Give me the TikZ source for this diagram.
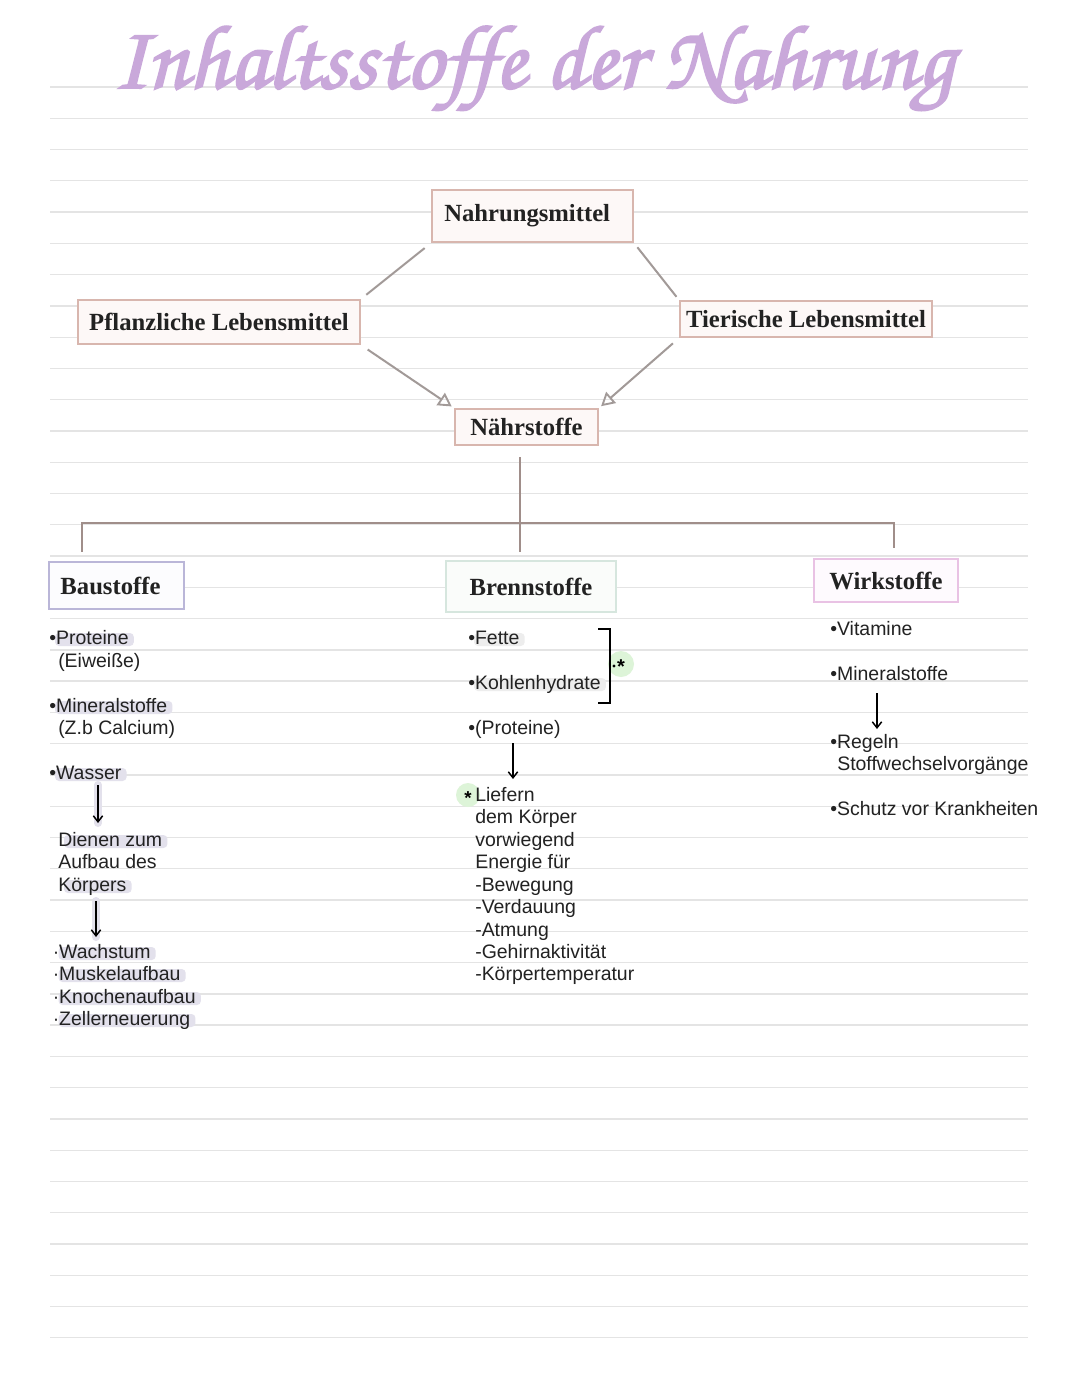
\documentclass[tikz,border=0pt]{standalone}
\usepackage[T1]{fontenc}
\usepackage{fontspec}
\setmainfont{Liberation Serif}
\setsansfont{Liberation Sans}
\usetikzlibrary{arrows.meta,calc}
\definecolor{rulegray}{HTML}{E4E4E4}
\definecolor{lilac}{HTML}{C9A8DA}
\definecolor{ink}{HTML}{222222}
\definecolor{brownbox}{HTML}{D8B6AE}
\definecolor{brownfill}{HTML}{FDF8F7}
\definecolor{lavbox}{HTML}{BAB6D8}
\definecolor{lavfill}{HTML}{FCFCFE}
\definecolor{greenbox}{HTML}{D6E6DE}
\definecolor{greenfill}{HTML}{FAFCFA}
\definecolor{pinkbox}{HTML}{E9C2E4}
\definecolor{pinkfill}{HTML}{FEFAFE}
\definecolor{conn}{HTML}{A29A98}
\definecolor{treecol}{HTML}{A08E8A}
\definecolor{hlcol}{HTML}{E3E1EC}
\definecolor{hlgray}{HTML}{EDEDED}
\definecolor{hlgreen}{HTML}{DDF4D8}
\pgfdeclarelayer{bg}
\pgfdeclarelayer{hl}
\pgfsetlayers{bg,hl,main}
\newcommand\boxfont{\fontsize{18.5}{22}\selectfont\bfseries}
\newcommand\bodyfont{\sffamily\fontsize{14.6}{17}\selectfont}
\newcommand\titletext{\resizebox{631pt}{!}{\special{pdf:literal 2 Tr 0.22 w}\fontencoding{T1}\fontfamily{pzc}\fontseries{mb}\fontshape{it}\selectfont Inhaltsstoffe der Nahrung\special{pdf:literal 0 Tr}}}
\newcommand\txt[4]{\node[txtline] (#1) at (#2,#3+7) {#4};}
\newcommand\hlt[2][hlcol]{\begin{pgfonlayer}{hl}\fill[#1,rounded corners=3pt] ($(#2.base west)+(6,-11)$) rectangle ($(#2.base east)+(5,2)$);\end{pgfonlayer}}
\tikzset{
  rulestyle/.style={draw=rulegray, line width=1pt},
  box/.style={draw=#1, line width=1.6pt, inner sep=0pt, font=\boxfont, text=ink, anchor=center},
  txtline/.style={anchor=base west, inner sep=0pt, font=\bodyfont, text=ink},
  link/.style={draw=conn, line width=1.5pt},
  linkarrow/.style={link, -{Triangle[open, length=10pt, width=11pt, line width=1.4pt]}},
  tree/.style={draw=treecol, line width=1.6pt},
  smallarrow/.style={draw=black, line width=1.1pt, -{Straight Barb[length=4.5pt, width=7pt, line width=1.1pt]}},
  bracket/.style={draw=black, line width=1.6pt},
}
\begin{document}
\begin{tikzpicture}[x=0.75pt,y=-0.75pt]
\useasboundingbox (0,0) rectangle (1080,1397);
\begin{pgfonlayer}{bg}
\fill[white] (0,0) rectangle (1080,1397);
\foreach \k in {0,...,40} \draw[rulestyle] (50,{87+31.27*\k}) -- (1028,{87+31.27*\k});
\end{pgfonlayer}

% title
\node[anchor=base, inner sep=0pt, text=lilac] (title) at (533,88) {\titletext};

% boxes
\node[box=brownbox, fill=brownfill, minimum width=201*0.75pt, minimum height=52*0.75pt] (nm) at (532.5,216) {\hspace*{-8pt}Nahrungsmittel};
\node[box=brownbox, fill=brownfill, minimum width=282*0.75pt, minimum height=44*0.75pt] (pf) at (219,322) {Pflanzliche Lebensmittel};
\node[box=brownbox, fill=brownfill, minimum width=252*0.75pt, minimum height=36*0.75pt] (tl) at (806,319) {Tierische Lebensmittel};
\node[box=brownbox, fill=brownfill, minimum width=143*0.75pt, minimum height=36*0.75pt] (ns) at (526.5,427) {Nährstoffe};
\node[box=lavbox, fill=lavfill, minimum width=135*0.75pt, minimum height=47*0.75pt] (bs) at (116.5,585.5) {\hspace*{-9pt}Baustoffe};
\node[box=greenbox, fill=greenfill, minimum width=170*0.75pt, minimum height=51*0.75pt] (br) at (531,586.5) {Brennstoffe};
\node[box=pinkbox, fill=pinkfill, minimum width=144*0.75pt, minimum height=43*0.75pt] (wk) at (886,580.5) {Wirkstoffe};

% connectors
\draw[link, shorten <=6pt, shorten >=5pt] (nm.south west) -- (pf.north east);
\draw[link, shorten <=4pt, shorten >=3pt] (nm.south east) -- (tl.north west);
\draw[linkarrow, shorten <=6pt, shorten >=2pt] (pf.south east) -- (ns.north west);
\draw[linkarrow, shorten <=6pt, shorten >=2pt] (tl.south west) -- (ns.north east);

% tree
\coordinate (treetop) at (520,457);
\coordinate (hub) at (520,523);
\coordinate (hubL) at (82,523);
\coordinate (hubR) at (894,523);
\draw[tree] (treetop) -- (hub);
\draw[tree] (hubL |- bs.north) ++(0,-9) -- (hubL) -- (hubR) -- ++(0,25);
\draw[tree] (hub) -- ($(hub |- br.north)+(0,-8)$);

% Baustoffe column
\txt{b1}{49}{637}{•Proteine}\hlt{b1}
\txt{b2}{58}{660}{(Eiweiße)}
\txt{b3}{49}{705}{•Mineralstoffe}\hlt{b3}
\txt{b4}{58}{727}{(Z.b Calcium)}
\txt{b5}{49}{772}{•Wasser}\hlt{b5}
\coordinate (a1s) at (98,785);
\coordinate (a1e) at (98,823);
\begin{pgfonlayer}{hl}\draw[hlcol, line width=6pt, line cap=round] (a1s) -- (a1e);\end{pgfonlayer}
\draw[smallarrow] (a1s) -- (a1e);
\txt{b6}{58}{839}{Dienen zum}\hlt{b6}
\txt{b7}{58}{861}{Aufbau des}
\txt{b8}{58}{884}{Körpers}\hlt{b8}
\coordinate (a2s) at (96,901);
\coordinate (a2e) at (96,937);
\begin{pgfonlayer}{hl}\draw[hlcol, line width=6pt, line cap=round] (a2s) -- (a2e);\end{pgfonlayer}
\draw[smallarrow] (a2s) -- (a2e);
\txt{b9}{52.5}{951}{·Wachstum}\hlt{b9}
\txt{b10}{52.5}{973}{·Muskelaufbau}\hlt{b10}
\txt{b11}{52.5}{996}{·Knochenaufbau}\hlt{b11}
\txt{b12}{52.5}{1018}{·Zellerneuerung}\hlt{b12}

% Brennstoffe column
\txt{c1}{468}{637}{•Fette}\hlt[hlgray]{c1}
\txt{c2}{468}{682}{•Kohlenhydrate}\hlt[hlgray]{c2}
\txt{c3}{468}{727}{•(Proteine)}
\coordinate (a3s) at (513,743);
\coordinate (a3e) at (513,779);
\draw[smallarrow] (a3s) -- (a3e);
\coordinate (bkt1) at (598,629);
\coordinate (bkt2) at (610,629);
\coordinate (bkt3) at (610,703);
\coordinate (bkt4) at (598,703);
\draw[bracket] (bkt1) -- (bkt2) -- (bkt3) -- (bkt4);
\begin{pgfonlayer}{hl}\fill[hlgreen] (621,664) circle (13);\end{pgfonlayer}
\fill[black] (614,666) circle (1.6);
\node[inner sep=0pt, font=\sffamily\bfseries\fontsize{15}{15}\selectfont] (star1) at (621,667) {*};
\begin{pgfonlayer}{hl}\fill[hlgreen] (468,795) circle (12);\end{pgfonlayer}
\node[inner sep=0pt, font=\sffamily\bfseries\fontsize{14}{14}\selectfont] (star2) at (468,798) {*};
\txt{c4}{475}{794}{Liefern}
\txt{c5}{475}{816}{dem Körper}
\txt{c6}{475}{839}{vorwiegend}
\txt{c7}{475}{861}{Energie für}
\txt{c8}{475}{884}{-Bewegung}
\txt{c9}{475}{906}{-Verdauung}
\txt{c10}{475}{929}{-Atmung}
\txt{c11}{475}{951}{-Gehirnaktivität}
\txt{c12}{475}{973}{-Körpertemperatur}

% Wirkstoffe column
\txt{w1}{830}{628}{•Vitamine}
\txt{w2}{830}{673}{•Mineralstoffe}
\coordinate (a4s) at (877,693);
\coordinate (a4e) at (877,729);
\draw[smallarrow] (a4s) -- (a4e);
\txt{w3}{830}{741}{•Regeln}
\txt{w4}{837}{763}{Stoffwechselvorgänge}
\txt{w5}{830}{808}{•Schutz vor Krankheiten}
\end{tikzpicture}
\end{document}
